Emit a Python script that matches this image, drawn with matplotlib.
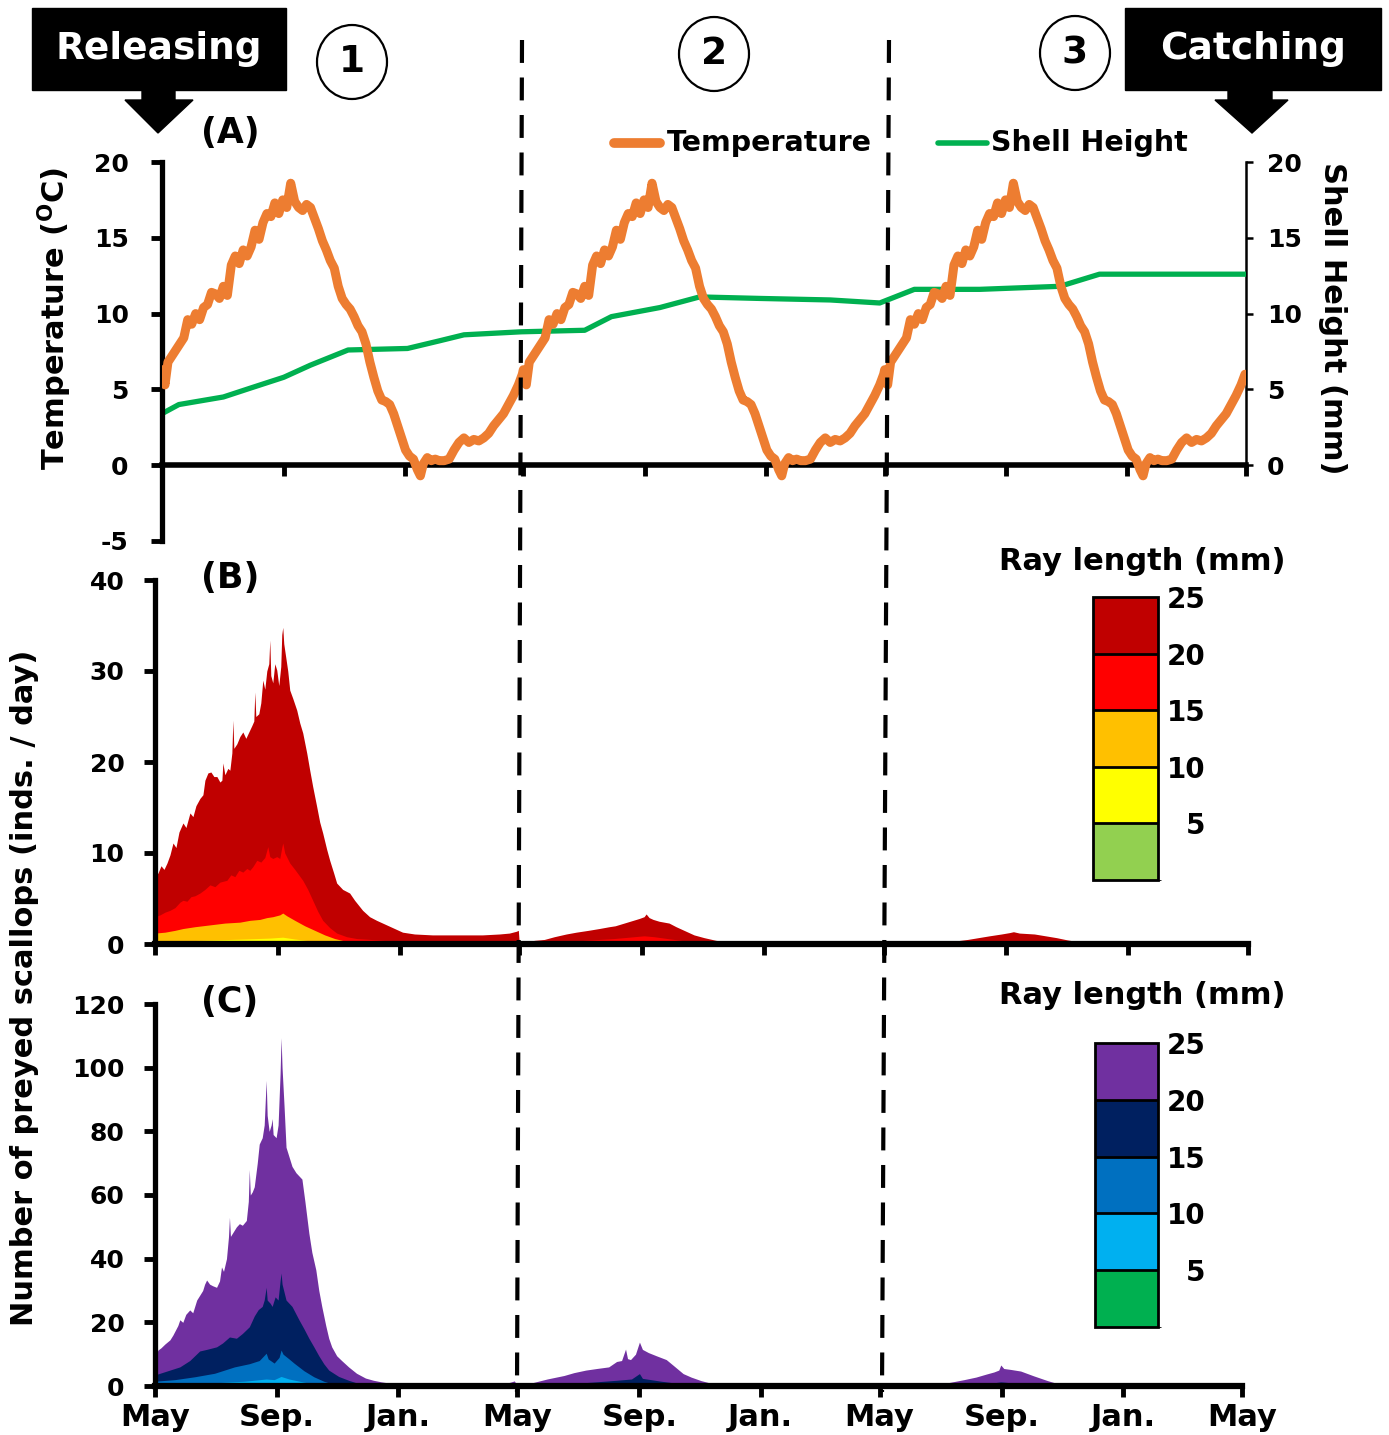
import numpy as np
import matplotlib
matplotlib.use("Agg")
import matplotlib.pyplot as plt
from matplotlib.lines import Line2D
from matplotlib.patches import Rectangle, Polygon, Ellipse
from matplotlib.colors import ListedColormap, BoundaryNorm
from matplotlib.cm import ScalarMappable

plt.rcParams["font.family"] = ["DejaVu Sans"]
plt.rcParams["font.weight"] = "bold"
plt.rcParams["axes.unicode_minus"] = False

# ---- data (days since release, 1 May) ----
month_days = [0, 123, 245, 365, 488, 610, 730, 853, 975, 1095]
month_labels = ["May", "Sep.", "Jan.", "May", "Sep.", "Jan.", "May", "Sep.", "Jan.", "May"]

# one annual temperature cycle (same curve in all three years)
temp_day = [0, 3, 6, 10, 14, 18, 22, 26, 30, 34, 38, 42, 46, 50, 54, 58, 62, 66, 70, 74,
            78, 82, 86, 90, 94, 98, 102, 106, 110, 114, 118, 122, 126, 130, 134, 138, 142,
            146, 150, 154, 158, 162, 166, 170, 174, 178, 182, 186, 190, 194, 198, 202, 206,
            210, 214, 218, 222, 226, 230, 234, 238, 242, 246, 250, 254, 258, 261, 264, 268,
            272, 276, 280, 285, 290, 295, 300, 305, 310, 315, 320, 325, 330, 335, 340, 345,
            350, 355, 360, 364]
temp_val = [6.3, 5.3, 6.8, 7.2, 7.6, 8.0, 8.4, 9.6, 9.3, 10.0, 9.6, 10.4, 10.6, 11.4, 11.3,
            11.0, 11.8, 11.2, 13.2, 13.8, 13.3, 14.2, 13.8, 14.4, 15.5, 14.9, 16.0, 16.6, 16.4,
            17.3, 16.6, 17.5, 17.0, 18.6, 17.4, 17.0, 16.8, 17.2, 17.0, 16.3, 15.6, 14.8, 14.2,
            13.5, 13.0, 11.8, 11.0, 10.6, 10.3, 9.8, 9.2, 8.8, 8.0, 6.8, 5.8, 4.9, 4.3, 4.2,
            4.0, 3.4, 2.6, 1.8, 1.0, 0.6, 0.4, -0.3, -0.7, 0.1, 0.5, 0.3, 0.4, 0.3, 0.3, 0.4,
            1.0, 1.5, 1.8, 1.5, 1.7, 1.6, 1.8, 2.1, 2.6, 3.0, 3.4, 4.0, 4.6, 5.3, 6.0]

shell_day = [0, 17, 35, 62, 90, 123, 150, 188, 248, 280, 305, 363, 427, 454, 503, 543,
             604, 675, 725, 760, 826, 907, 947, 1095]
shell_val = [3.4, 4.0, 4.2, 4.5, 5.1, 5.8, 6.6, 7.6, 7.7, 8.2, 8.6, 8.8, 8.9, 9.8, 10.4,
             11.1, 11.0, 10.9, 10.7, 11.6, 11.6, 11.8, 12.6, 12.6]

# panel B: cumulative boundaries by ray length class
b25_day = [0, 3, 6, 9, 12, 15, 18, 21, 24, 28, 31, 35, 38, 41, 45, 48, 50, 53, 56, 59, 62,
           65, 67, 68, 70, 73, 75, 77, 78, 79, 82, 85, 88, 91, 94, 97, 99, 100, 101, 104,
           106, 108, 110, 112, 114, 115, 116, 118, 120, 122, 124, 126, 127, 128, 129, 131,
           133, 135, 138, 142, 145, 148, 152, 155, 158, 162, 165, 168, 172, 175, 179, 182,
           188, 195, 200, 208, 215, 222, 228, 238, 248, 260, 278, 300, 328, 345, 355, 362,
           364, 365, 372, 380, 390, 400, 412, 422, 434, 445, 455, 461, 470, 476, 479, 485,
           490, 492, 495, 499, 505, 515, 522, 532, 540, 550, 562, 577, 595, 700, 720, 729,
           730, 780, 791, 803, 814, 825, 836, 848, 856, 860, 866, 881, 892, 903, 914, 925,
           940, 960, 1095]
b25_val = [7.5, 7.8, 8.6, 8.2, 8.9, 9.8, 11.1, 10.6, 12.3, 13.3, 12.8, 14.4, 14.0, 15.2,
           16.0, 16.4, 18.0, 18.8, 18.9, 18.4, 18.4, 17.8, 18.0, 19.9, 18.6, 19.3, 19.1,
           21.0, 24.6, 21.5, 22.0, 22.8, 23.3, 22.6, 23.3, 24.0, 24.5, 27.7, 25.0, 25.3,
           26.5, 29.0, 28.0, 30.0, 30.8, 33.4, 29.5, 28.7, 30.8, 30.1, 28.4, 30.5, 34.0,
           34.8, 33.0, 31.5, 30.0, 27.9, 27.0, 25.7, 24.3, 23.2, 21.0, 19.1, 17.3, 15.1,
           13.4, 12.2, 10.4, 9.2, 7.8, 6.7, 6.0, 5.6, 4.8, 3.7, 3.0, 2.6, 2.3, 1.8, 1.3,
           1.1, 1.0, 1.0, 1.0, 1.1, 1.2, 1.4, 1.5, 0.0, 0.2, 0.4, 0.5, 0.8, 1.1, 1.3, 1.5,
           1.7, 1.9, 2.0, 2.3, 2.5, 2.6, 2.8, 3.0, 3.3, 2.9, 2.7, 2.5, 2.3, 1.9, 1.4, 1.0,
           0.7, 0.4, 0.2, 0.05, 0.05, 0.15, 0.25, 0.0, 0.1, 0.2, 0.35, 0.5, 0.7, 0.9, 1.1,
           1.25, 1.35, 1.2, 1.1, 0.9, 0.7, 0.45, 0.25, 0.05, 0.0, 0.0]
b20_day = [0, 5, 10, 15, 20, 25, 28, 32, 36, 40, 45, 50, 55, 60, 65, 72, 76, 80, 84, 88, 92,
           95, 98, 102, 106, 110, 113, 115, 118, 122, 125, 127, 128, 130, 135, 140, 148, 153,
           158, 163, 168, 175, 182, 192, 202, 230, 300, 364, 365, 400, 430, 460, 490, 500,
           520, 540, 560, 820, 850, 870, 900, 1095]
b20_val = [3.0, 3.2, 3.5, 3.7, 4.0, 4.6, 4.8, 4.7, 5.2, 5.3, 5.6, 6.0, 6.5, 6.3, 6.8, 7.0,
           7.6, 7.4, 8.1, 7.9, 8.3, 8.1, 8.5, 9.2, 9.0, 9.5, 10.7, 9.6, 9.4, 9.6, 9.4, 10.6,
           11.1, 10.0, 8.9, 8.2, 7.0, 6.0, 4.8, 3.6, 2.6, 1.8, 1.2, 0.8, 0.6, 0.4, 0.3, 0.3,
           0.0, 0.1, 0.4, 0.6, 0.9, 0.8, 0.5, 0.2, 0.0, 0.0, 0.2, 0.2, 0.0, 0.0]
b15_day = [0, 10, 20, 28, 40, 55, 70, 85, 95, 105, 112, 118, 125, 128, 132, 140, 150, 160,
           170, 180, 195, 210, 1095]
b15_val = [1.2, 1.3, 1.5, 1.7, 1.9, 2.1, 2.3, 2.4, 2.6, 2.7, 2.9, 3.0, 3.2, 3.4, 3.1, 2.6,
           2.0, 1.5, 1.0, 0.6, 0.2, 0.05, 0.0]
b10_day = [0, 30, 60, 90, 115, 128, 140, 155, 170, 185, 1095]
b10_val = [0.3, 0.35, 0.45, 0.55, 0.65, 0.75, 0.55, 0.35, 0.15, 0.0, 0.0]
b5_day = [0, 120, 180, 1095]
b5_val = [0.05, 0.1, 0.0, 0.0]

# panel C: cumulative boundaries by ray length class
c25_day = [0, 3, 6, 10, 15, 18, 20, 23, 25, 28, 31, 35, 38, 42, 45, 48, 50, 52, 55, 58, 62,
           65, 67, 69, 72, 74, 75, 76, 79, 82, 85, 88, 92, 94, 95, 96, 98, 100, 103, 105,
           108, 110, 112, 113, 115, 117, 118, 119, 122, 124, 126, 127, 128, 130, 132, 135,
           138, 142, 145, 148, 151, 155, 158, 162, 165, 168, 172, 175, 178, 183, 188, 195,
           203, 212, 220, 228, 245, 270, 330, 350, 358, 362, 365, 372, 381, 395, 412, 422,
           434, 445, 457, 465, 470, 474, 476, 479, 484, 488, 491, 497, 505, 515, 522, 532,
           540, 550, 564, 580, 600, 720, 729, 730, 780, 800, 815, 827, 838, 845, 850, 852,
           855, 862, 872, 885, 899, 912, 925, 940, 1095]
c25_val = [9.0, 11.3, 12.0, 13.2, 14.5, 16.0, 17.2, 19.0, 20.8, 20.0, 22.5, 23.9, 23.0,
           27.0, 28.5, 30.0, 32.0, 33.3, 32.0, 31.5, 31.0, 33.0, 37.4, 36.0, 40.0, 46.8,
           53.0, 47.0, 48.5, 50.0, 51.0, 50.5, 52.0, 58.0, 68.0, 60.0, 61.0, 62.6, 70.0,
           76.0, 78.0, 82.0, 96.0, 85.0, 80.0, 82.0, 84.0, 79.0, 78.0, 82.0, 98.0, 109.4,
           100.0, 88.0, 75.0, 72.0, 69.0, 67.0, 66.0, 65.0, 58.0, 48.0, 42.0, 36.5, 30.0,
           25.0, 19.0, 15.0, 12.3, 9.5, 8.0, 6.0, 4.0, 2.5, 1.8, 1.3, 0.5, 0.2, 0.2, 0.6,
           1.2, 1.6, 0.0, 0.4, 1.1, 2.2, 3.3, 4.2, 5.0, 5.5, 6.0, 7.7, 8.0, 11.6, 8.6, 8.3,
           10.0, 13.8, 11.5, 10.5, 9.5, 8.3, 6.5, 3.9, 2.8, 1.7, 0.55, 0.1, 0.0, 0.0, 0.3,
           0.0, 0.0, 1.1, 2.0, 2.8, 3.8, 4.4, 5.0, 6.6, 5.5, 5.2, 4.7, 3.2, 1.7, 0.5, 0.1,
           0.0, 0.0]
c20_day = [0, 5, 15, 25, 35, 45, 52, 62, 68, 75, 82, 88, 95, 100, 104, 108, 110, 112, 113,
           116, 118, 121, 124, 126, 127, 128, 132, 138, 145, 150, 155, 160, 165, 170, 175,
           185, 195, 210, 230, 300, 380, 410, 440, 465, 480, 488, 491, 510, 530, 550, 570,
           800, 830, 852, 870, 900, 1095]
c20_val = [3.5, 4.0, 5.0, 6.0, 8.0, 11.0, 11.5, 12.3, 13.5, 15.4, 15.0, 16.5, 18.6, 22.0,
           24.0, 25.0, 27.0, 31.0, 27.0, 26.0, 25.0, 28.0, 27.0, 33.0, 35.5, 32.0, 27.0,
           25.0, 20.8, 18.0, 15.0, 12.3, 9.5, 7.0, 5.0, 3.0, 1.8, 0.3, 0.05, 0.0, 0.0, 0.6,
           1.2, 1.8, 2.2, 3.9, 2.4, 1.5, 0.7, 0.1, 0.0, 0.0, 0.4, 1.3, 0.8, 0.0, 0.0]
c15_day = [0, 20, 40, 60, 80, 95, 105, 112, 114, 120, 125, 127, 129, 135, 140, 150, 160,
           170, 180, 195, 220, 450, 470, 488, 510, 530, 1095]
c15_val = [1.5, 2.0, 2.9, 4.0, 6.0, 7.0, 8.0, 10.3, 8.5, 7.2, 9.0, 11.3, 10.0, 8.5, 7.2,
           4.8, 2.9, 1.5, 0.5, 0.1, 0.0, 0.0, 0.3, 0.6, 0.2, 0.0, 0.0]
c10_day = [0, 30, 60, 90, 112, 120, 127, 135, 150, 165, 180, 200, 1095]
c10_val = [0.5, 0.7, 1.0, 1.5, 2.2, 2.0, 3.0, 2.2, 1.2, 0.5, 0.1, 0.0, 0.0]
c5_day = [0, 120, 180, 1095]
c5_val = [0.1, 0.3, 0.0, 0.0]

ray_bounds = [0, 5, 10, 15, 20, 25]
b_colors = ["#92D050", "#FFFF00", "#FFC000", "#FF0000", "#C00000"]
c_colors = ["#00B050", "#00B0F0", "#0070C0", "#002060", "#7030A0"]

W, H = 1389, 1435


def fx(px):
    return px / W


def fy(py):
    return 1 - py / H


fig = plt.figure(figsize=(W / 100, H / 100), dpi=100)

# ---- panel A ----
axA = fig.add_axes([fx(162), fy(541), (1246 - 162) / W, (541 - 162) / H])
days_3y = np.concatenate([np.array(temp_day) + 365 * k for k in range(3)] + [[1095]])
temp_3y = np.concatenate([temp_val] * 3 + [[5.6]])
axA.plot(days_3y, temp_3y, color="#ED7D31", lw=6.5, zorder=4, solid_joinstyle="round",
         solid_capstyle="round")
axA.set_xlim(0, 1095)
axA.set_ylim(-5, 20)
axA.set_yticks([-5, 0, 5, 10, 15, 20])
axA.set_xticks(month_days)
axA.set_xticklabels([])
for s in ["top", "right"]:
    axA.spines[s].set_visible(False)
axA.spines["bottom"].set_position(("data", 0))
axA.spines["left"].set_linewidth(3.8)
axA.spines["bottom"].set_linewidth(4)
axA.tick_params(axis="y", labelsize=18, width=3.5, length=8, pad=16)
axA.tick_params(axis="x", width=3.5, length=8)

axR = axA.twinx()
axR.plot(shell_day, shell_val, color="#00B050", lw=3.8, zorder=3)
axR.set_ylim(-5, 20)
axR.set_yticks([0, 5, 10, 15, 20])
for s in ["top", "left", "bottom"]:
    axR.spines[s].set_visible(False)
axR.spines["right"].set_bounds(0, 20)
axR.spines["right"].set_linewidth(1.8)
axR.tick_params(axis="y", labelsize=18, width=1.8, length=5, pad=10)
axA.set_zorder(axR.get_zorder() + 1)
axA.patch.set_visible(False)

# ---- panel B ----
axB = fig.add_axes([fx(155), fy(944), (1248 - 155) / W, (944 - 580) / H])
for d, v, c in [(b25_day, b25_val, b_colors[4]), (b20_day, b20_val, b_colors[3]),
                (b15_day, b15_val, b_colors[2]), (b10_day, b10_val, b_colors[1]),
                (b5_day, b5_val, b_colors[0])]:
    axB.fill_between(d, 0, v, color=c, lw=0)
axB.set_xlim(0, 1095)
axB.set_ylim(0, 40)
axB.set_yticks([0, 10, 20, 30, 40])

# ---- panel C ----
axC = fig.add_axes([fx(155), fy(1386), (1242 - 155) / W, (1386 - 1004) / H])
for d, v, c in [(c25_day, c25_val, c_colors[4]), (c20_day, c20_val, c_colors[3]),
                (c15_day, c15_val, c_colors[2]), (c10_day, c10_val, c_colors[1]),
                (c5_day, c5_val, c_colors[0])]:
    axC.fill_between(d, 0, v, color=c, lw=0)
axC.set_xlim(0, 1095)
axC.set_ylim(0, 120)
axC.set_yticks([0, 20, 40, 60, 80, 100, 120])

for ax in (axB, axC):
    for s in ["top", "right"]:
        ax.spines[s].set_visible(False)
    ax.spines["left"].set_linewidth(3.8)
    ax.spines["bottom"].set_linewidth(4.5)
    ax.set_xticks(month_days)
    ax.tick_params(axis="y", labelsize=18, width=3.5, length=8, pad=14)
    ax.tick_params(axis="x", width=3.5, length=8)
axB.set_xticklabels([])
axC.set_xticklabels(month_labels, fontsize=22)
axC.tick_params(axis="x", pad=4)

# ---- axis titles ----
fig.text(fx(55), fy(318), r"Temperature ($\mathregular{^{O}}$C)", rotation=90,
         ha="center", va="center", fontsize=22)
fig.text(fx(1333), fy(318), "Shell Height (mm)", rotation=-90,
         ha="center", va="center", fontsize=22)
fig.text(fx(25), fy(988), "Number of preyed scallops (inds. / day)", rotation=90,
         ha="center", va="center", fontsize=22)
for lab, yy in [("(A)", 133), ("(B)", 578), ("(C)", 1002)]:
    fig.text(fx(230), fy(yy), lab, ha="center", va="center", fontsize=25)

# ---- legend panel A ----
fig.add_artist(Line2D([fx(614), fx(660)], [fy(143), fy(143)], color="#ED7D31",
                      lw=7, solid_capstyle="round", transform=fig.transFigure))
fig.text(fx(667), fy(143), "Temperature", ha="left", va="center", fontsize=20.5)
fig.add_artist(Line2D([fx(938), fx(987)], [fy(143), fy(143)], color="#00B050",
                      lw=4, solid_capstyle="round", transform=fig.transFigure))
fig.text(fx(991), fy(143), "Shell Height", ha="left", va="center", fontsize=20.5)

# ---- ray length keys ----
for colors, top, bot, x0, x1, ty in [(b_colors, 597, 880, 1093, 1158, 562),
                                     (c_colors, 1043, 1327, 1095, 1158, 995)]:
    cax = fig.add_axes([fx(x0), fy(bot), (x1 - x0) / W, (bot - top) / H])
    cmap = ListedColormap(colors)
    norm = BoundaryNorm(ray_bounds, cmap.N)
    cb = fig.colorbar(ScalarMappable(norm=norm, cmap=cmap), cax=cax, drawedges=True,
                      ticks=[5, 10, 15, 20, 25])
    cb.outline.set_linewidth(2)
    cb.dividers.set_color("black")
    cb.dividers.set_linewidth(2)
    cax.tick_params(length=0, pad=34, labelsize=20)
    for t in cax.get_yticklabels():
        t.set_horizontalalignment("right")
    fig.text(fx(1142), fy(ty), "Ray length (mm)", ha="center", va="center", fontsize=22)

# ---- period markers ----
for xt, xb in [(522, 517), (889, 882)]:
    fig.add_artist(Line2D([fx(xt), fx(xb)], [fy(40), fy(1392)], color="black", lw=3,
                          linestyle=(0, (5.5, 3.5)), transform=fig.transFigure, zorder=10))

for num, cx, cy in [("1", 352, 62), ("2", 714, 54), ("3", 1075, 53)]:
    fig.add_artist(Ellipse((fx(cx), fy(cy)), 70 / W, 74 / H, facecolor="white",
                           edgecolor="black", lw=1.6, transform=fig.transFigure))
    fig.text(fx(cx), fy(cy), num, ha="center", va="center", fontsize=27)

# releasing / catching boxes with arrows
for label, bx0, bx1, sx0, sx1, hx0, hx1, tipx in [
        ("Releasing", 32, 286, 142, 175, 125, 193, 158),
        ("Catching", 1125, 1381, 1228, 1272, 1215, 1288, 1252)]:
    fig.add_artist(Rectangle((fx(bx0), fy(90)), (bx1 - bx0) / W, (90 - 8) / H,
                             color="black", transform=fig.transFigure))
    pts = [(sx0, 89), (sx1, 89), (sx1, 100), (hx1, 100), (tipx, 133), (hx0, 100), (sx0, 100)]
    fig.add_artist(Polygon([(fx(a), fy(b)) for a, b in pts], closed=True, color="black",
                           transform=fig.transFigure))
    fig.text(fx((bx0 + bx1) / 2), fy(49), label, ha="center", va="center",
             fontsize=27, color="white")

fig.savefig("out.png", dpi=100)
